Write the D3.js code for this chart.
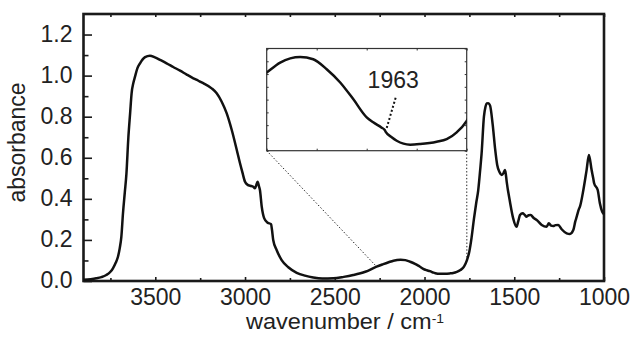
<!DOCTYPE html>
<html>
<head>
<meta charset="utf-8">
<script src="https://cdn.jsdelivr.net/npm/d3@7"></script>
<style>
  html, body { margin: 0; padding: 0; background: #fff; }
  svg { display: block; }
  text { font-family: "Liberation Sans", Arial, Helvetica, sans-serif; fill: #222; }
</style>
</head>
<body>
<div id="chart"></div>
<script>
// ---- data ----
const wavenumbers = [
  3900, 3860, 3829, 3800, 3773, 3750, 3736, 3720, 3708, 3698, 3689, 3680, 3670, 3661, 3650, 3640,
  3632, 3622, 3613, 3600, 3585, 3557, 3530, 3502, 3470, 3437, 3400, 3362, 3325, 3288, 3260, 3233,
  3186, 3158, 3130, 3102, 3074, 3046, 3028, 3015, 3000, 2985, 2972, 2954, 2945, 2938, 2930, 2922,
  2917, 2907, 2893, 2874, 2855, 2850, 2843, 2824, 2796, 2759, 2712, 2666, 2620, 2570, 2508, 2450,
  2397, 2330, 2267, 2230, 2200, 2173, 2133, 2107, 2080, 2053, 2027, 2000, 1987, 1970, 1964, 1962,
  1950, 1940, 1913, 1893, 1860, 1840, 1820, 1800, 1780, 1764, 1750, 1738, 1725, 1712, 1701, 1690,
  1682, 1669, 1660, 1654, 1645, 1635, 1620, 1607, 1595, 1582, 1570, 1560, 1552, 1547, 1542, 1524,
  1506, 1487, 1478, 1468, 1453, 1442, 1431, 1420, 1409, 1390, 1375, 1347, 1320, 1307, 1295, 1283,
  1270, 1255, 1236, 1208, 1190, 1171, 1160, 1152, 1140, 1134, 1115, 1097, 1084, 1069, 1060, 1055,
  1035, 1023, 1010, 1000
];
const absorbance = [
  0.006, 0.009, 0.013, 0.019, 0.029, 0.045, 0.062, 0.090, 0.118, 0.160, 0.216, 0.330, 0.430, 0.520, 0.700, 0.820,
  0.914, 0.965, 0.995, 1.035, 1.060, 1.090, 1.097, 1.089, 1.075, 1.060, 1.042, 1.024, 1.005, 0.987, 0.975, 0.963,
  0.938, 0.914, 0.873, 0.816, 0.735, 0.638, 0.573, 0.530, 0.483, 0.468, 0.464, 0.459, 0.451, 0.465, 0.483, 0.460,
  0.443, 0.362, 0.305, 0.284, 0.277, 0.250, 0.200, 0.151, 0.102, 0.067, 0.040, 0.026, 0.017, 0.012, 0.013, 0.020,
  0.029, 0.045, 0.070, 0.082, 0.0912, 0.0990, 0.1034, 0.1016, 0.0938, 0.0834, 0.0704, 0.0561, 0.0522, 0.0480, 0.0462, 0.0448,
  0.0405, 0.0378, 0.0347, 0.0352, 0.0370, 0.0391, 0.0444, 0.0534, 0.070, 0.100, 0.145, 0.210, 0.300, 0.380, 0.440, 0.540,
  0.620, 0.800, 0.850, 0.865, 0.866, 0.855, 0.760, 0.646, 0.565, 0.530, 0.516, 0.525, 0.540, 0.520, 0.483, 0.386,
  0.305, 0.264, 0.290, 0.321, 0.330, 0.322, 0.313, 0.320, 0.321, 0.305, 0.297, 0.273, 0.264, 0.281, 0.270, 0.268,
  0.272, 0.273, 0.252, 0.232, 0.229, 0.248, 0.290, 0.313, 0.350, 0.362, 0.443, 0.540, 0.613, 0.540, 0.500, 0.476,
  0.443, 0.378, 0.337, 0.325
];
const xDomain = [3900, 1000];
const yDomain = [0, 1.3];
const xMajorTicks = [3500, 3000, 2500, 2000, 1500, 1000];
const xMinorTicks = [3750, 3250, 2750, 2250, 1750, 1250];
const yMajorTicks = [0, 0.2, 0.4, 0.6, 0.8, 1.0, 1.2];
const yMinorTicks = [0.1, 0.3, 0.5, 0.7, 0.9, 1.1];
const insetXDomain = [2200, 1800];
const insetYDomain = [0.03, 0.11];
const insetXTicks = [2200, 2100, 2000, 1900, 1800];
const insetYTicks = [0.03, 0.04, 0.05, 0.06, 0.07, 0.08, 0.09, 0.10, 0.11];
const guideWavenumbers = [2267, 1764];
const annotWavenumber = [1963];
const annotLabel = ["1963"];
const xLabel = "wavenumber / cm";
const xLabelSup = "-1";
const yLabel = "absorbance";

const data = wavenumbers.map((w, i) => ({ w, a: absorbance[i] }));

// ---- layout ----
const W = 630, H = 339;
const L = 83.5, R = 604, T = 14, B = 281;
const inset = { l: 266.7, r: 466.7, t: 48.5, b: 150.7 };
const FS = 23;

const svg = d3.select("#chart").append("svg").attr("width", W).attr("height", H);

const x = d3.scaleLinear().domain(xDomain).range([L, R]);
const y = d3.scaleLinear().domain(yDomain).range([B, T]);

function valueAt(w) {
  for (let i = 0; i < data.length - 1; i++) {
    const a = data[i], b = data[i + 1];
    if (w <= a.w && w >= b.w) {
      const t = (a.w - w) / (a.w - b.w);
      return a.a + t * (b.a - a.a);
    }
  }
  return 0;
}

// ---- main axes (inward ticks) ----
const axisColor = "#1a1a1a";
const bottomMajor = d3.axisBottom(x).tickValues(xMajorTicks).tickSizeInner(-4).tickSizeOuter(0)
  .tickFormat(d3.format("d")).tickPadding(8);
const gB = svg.append("g").attr("transform", `translate(0,${B})`).call(bottomMajor);
const bottomMinor = d3.axisBottom(x).tickValues(xMinorTicks).tickSize(-3).tickFormat("");
const gBm = svg.append("g").attr("transform", `translate(0,${B})`).call(bottomMinor);
const topAxis = d3.axisTop(x).tickValues(xMajorTicks.concat(xMinorTicks)).tickSize(-3).tickFormat("");
const gT = svg.append("g").attr("transform", `translate(0,${T})`).call(topAxis);
const leftMajor = d3.axisLeft(y).tickValues(yMajorTicks).tickSizeInner(-8.5).tickSizeOuter(0)
  .tickFormat(d3.format(".1f")).tickPadding(11);
const gL = svg.append("g").attr("transform", `translate(${L},0)`).call(leftMajor);
const leftMinor = d3.axisLeft(y).tickValues(yMinorTicks).tickSize(-5).tickFormat("");
const gLm = svg.append("g").attr("transform", `translate(${L},0)`).call(leftMinor);

[gB, gBm, gT, gL, gLm].forEach(g => {
  g.select(".domain").remove();
  g.selectAll(".tick line").attr("stroke", axisColor).attr("stroke-width", 1.6);
  g.selectAll("text").attr("font-size", FS).attr("fill", "#222")
    .attr("font-family", "'Liberation Sans', Arial, sans-serif");
});
gB.selectAll("text").attr("dy", "0.71em");
gL.selectAll("text").attr("dy", "0.3em");

// frame
svg.append("rect").attr("x", L).attr("y", T).attr("width", R - L).attr("height", B - T)
  .attr("fill", "none").attr("stroke", axisColor).attr("stroke-width", 2.6);

// ---- main curve ----
const line = d3.line().x(d => x(d.w)).y(d => y(d.a)).curve(d3.curveMonotoneX);

const gx = [inset.l, inset.r];
svg.selectAll("line.guide").data(guideWavenumbers).enter().append("line")
  .attr("class", "guide")
  .attr("x1", (d, i) => gx[i]).attr("y1", inset.b)
  .attr("x2", d => x(d)).attr("y2", d => y(valueAt(d)))
  .attr("stroke", "#222").attr("stroke-width", 1).attr("stroke-dasharray", "1.4,2");

svg.append("path").datum(data).attr("d", line)
  .attr("fill", "none").attr("stroke", "#111").attr("stroke-width", 2.5)
  .attr("stroke-linejoin", "round");

// ---- inset ----
const xi = d3.scaleLinear().domain(insetXDomain).range([inset.l, inset.r]);
const yi = d3.scaleLinear().domain(insetYDomain).range([inset.b, inset.t]);

svg.append("rect").attr("x", inset.l).attr("y", inset.t)
  .attr("width", inset.r - inset.l).attr("height", inset.b - inset.t)
  .attr("fill", "#fff").attr("stroke", "#333").attr("stroke-width", 1.2);

svg.append("clipPath").attr("id", "insetClip").append("rect")
  .attr("x", inset.l).attr("y", inset.t).attr("width", inset.r - inset.l).attr("height", inset.b - inset.t);

const insetTickStyle = g => {
  g.select(".domain").remove();
  g.selectAll(".tick line").attr("stroke", "#333").attr("stroke-width", 1);
};
svg.append("g").attr("transform", `translate(0,${inset.b})`)
  .call(d3.axisBottom(xi).tickValues(insetXTicks).tickSize(-2).tickFormat("")).call(insetTickStyle);
svg.append("g").attr("transform", `translate(0,${inset.t})`)
  .call(d3.axisTop(xi).tickValues(insetXTicks).tickSize(-2).tickFormat("")).call(insetTickStyle);
svg.append("g").attr("transform", `translate(${inset.l},0)`)
  .call(d3.axisLeft(yi).tickValues(insetYTicks).tickSize(-2).tickFormat("")).call(insetTickStyle);
svg.append("g").attr("transform", `translate(${inset.r},0)`)
  .call(d3.axisRight(yi).tickValues(insetYTicks).tickSize(-2).tickFormat("")).call(insetTickStyle);

const insetData = data.filter(d => d.w <= 2240 && d.w >= 1760);
const lineInset = d3.line().x(d => xi(d.w)).y(d => yi(d.a)).curve(d3.curveMonotoneX);
svg.append("path").datum(insetData).attr("d", lineInset).attr("clip-path", "url(#insetClip)")
  .attr("fill", "none").attr("stroke", "#111").attr("stroke-width", 2.5).attr("stroke-linejoin", "round");

// annotation
annotWavenumber.forEach((w, i) => {
  const px = xi(w), py = yi(valueAt(w));
  svg.append("line").attr("x1", px + 1.5).attr("y1", py - 3).attr("x2", px + 11).attr("y2", py - 35)
    .attr("stroke", "#111").attr("stroke-width", 2).attr("stroke-dasharray", "2,2.2");
  svg.append("text").attr("x", px + 8).attr("y", py - 42.5).attr("text-anchor", "middle")
    .attr("font-size", FS).text(annotLabel[i]);
});

// ---- axis titles ----
const xt = svg.append("text").attr("transform", "translate(246,329) scale(1.07,1)")
  .attr("text-anchor", "start").attr("font-size", 22);
xt.append("tspan").text(xLabel);
xt.append("tspan").attr("font-size", 13).attr("dy", -6.5).text(xLabelSup);

svg.append("text").attr("transform", "translate(25,142.5) rotate(-90)").attr("text-anchor", "middle")
  .attr("font-size", FS).text(yLabel);
</script>
</body>
</html>
